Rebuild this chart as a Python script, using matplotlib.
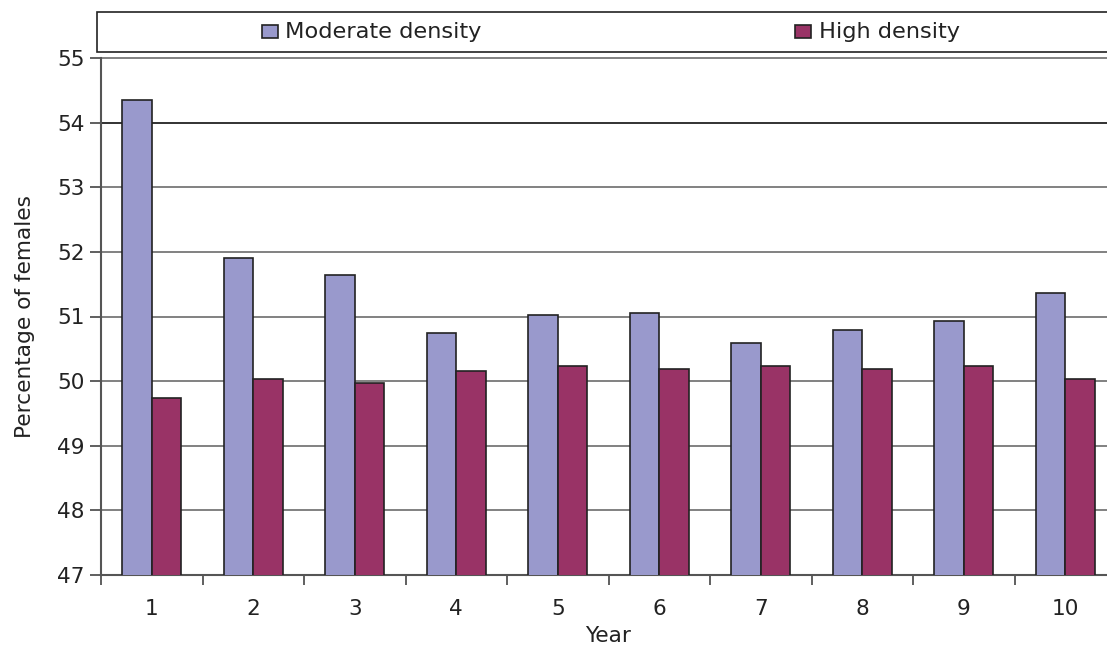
import numpy as np
import matplotlib
matplotlib.use("Agg")
import matplotlib.pyplot as plt
from matplotlib.patches import Rectangle

plt.rcParams['font.family'] = ['DejaVu Sans']

years = ['1', '2', '3', '4', '5', '6', '7', '8', '9', '10']
moderate = [54.35, 51.90, 51.64, 50.74, 51.02, 51.06, 50.59, 50.79, 50.93, 51.37]
high = [49.74, 50.03, 49.97, 50.15, 50.23, 50.18, 50.23, 50.18, 50.23, 50.03]
series_names = ['Moderate density', 'High density']
colors = ['#9999CC', '#993366']
yticks = [47, 48, 49, 50, 51, 52, 53, 54, 55]

FS = 15.6
FS_LEG = 16.2
TXT = '#222222'

W, H = 1107, 648
fig = plt.figure(figsize=(W / 100, H / 100), dpi=100)
ax = fig.add_axes([101 / W, (H - 575) / H, 1015 / W, 517 / H])

x = np.arange(1, len(years) + 1)
bw = 0.29
ax.bar(x - bw / 2, moderate, width=bw, color=colors[0], edgecolor='#222222', linewidth=1.2, zorder=3)
ax.bar(x + bw / 2, high, width=bw, color=colors[1], edgecolor='#222222', linewidth=1.2, zorder=3)

ax.set_ylim(47, 55)
ax.set_xlim(0.5, len(years) + 0.5)
ax.set_yticks(yticks)
ax.set_yticklabels([str(t) for t in yticks], fontsize=FS, color=TXT)
ax.set_xticks(x)
ax.set_xticklabels(years, fontsize=FS, color=TXT)
ax.set_xticks(np.arange(0.5, len(years) + 1, 1.0), minor=True)
ax.tick_params(axis='x', which='major', length=0, pad=17)
ax.tick_params(axis='x', which='minor', length=7, width=1.2, color='#444444', direction='out')
ax.tick_params(axis='y', which='major', length=8, width=1.2, color='#444444', direction='out', pad=4)

for yv in yticks[1:]:
    ax.axhline(yv, color='#222222' if yv == 54 else '#777777', linewidth=1.3, zorder=1, clip_on=False)

for s in ['top', 'right']:
    ax.spines[s].set_visible(False)
for s in ['left', 'bottom']:
    ax.spines[s].set_color('#555555')
    ax.spines[s].set_linewidth(1.5)

ax.set_xlabel('Year', fontsize=FS, labelpad=5, color=TXT)
ax.set_ylabel('Percentage of females', fontsize=FS, labelpad=16, color=TXT)

# legend box across top
fig.add_artist(Rectangle((97 / W, (H - 52) / H), (W - 97 + 10) / W, 40 / H,
                         transform=fig.transFigure, facecolor='white',
                         edgecolor='#222222', linewidth=1.2, clip_on=False))
sw_x = [262, 795]
tx_x = [285, 819]
for i, name in enumerate(series_names):
    fig.add_artist(Rectangle((sw_x[i] / W, (H - 38) / H), 16 / W, 13 / H,
                             transform=fig.transFigure, facecolor=colors[i],
                             edgecolor='#222222', linewidth=1.2))
    fig.text(tx_x[i] / W, (H - 31.5) / H, name, fontsize=FS_LEG, va='center', ha='left', color=TXT)

fig.savefig('out.png', dpi=100)
